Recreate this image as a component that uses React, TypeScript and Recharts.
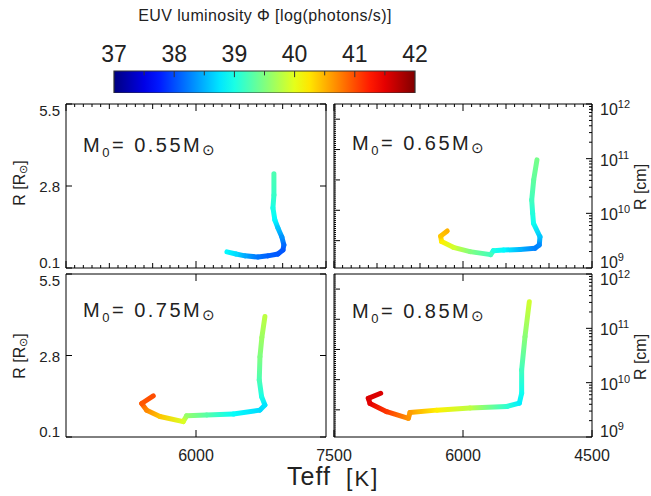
import React from "react";
import { LineChart, Line, XAxis, YAxis, ReferenceArea, ReferenceLine } from "recharts";

const FONT = "'Liberation Sans', Arial, Helvetica, sans-serif";
const INK = "#222";

// colour scale (EUV luminosity, log photons/s)
const phiMin = 37;
const phiMax = 42;
const colorbarTicks = [37, 37.5, 38, 38.5, 39, 39.5, 40, 40.5, 41, 41.5, 42];
const colorbarLabels = [37, 38, 39, 40, 41, 42];

// axis ticks
const teffMinorTicks = Array.from({ length: 31 }, (_, i) => 4500 + i * 100);
const teffMidTick = [6000];
const teffEdgeTicks = [7500, 6000, 4500];
const rSunTicks = [0.1, 2.8, 5.5];
const rDenseTicks = Array.from({ length: 84 }, (_, i) => i / 15).filter((v) => v >= 0.1 && v <= 5.5);
const cmTicks = [9, 10, 11].flatMap((n) => [1, 2, 3, 4, 5, 6, 7, 8, 9].map((k) => k * Math.pow(10, n))).concat([1e12]);

// tracks: Teff [K], R [Rsun], EUV luminosity
const masses = ["0.55", "0.65", "0.75", "0.85"];

const teff055 = [5101, 5101, 5112, 5090, 5055, 5009, 4986, 4997, 5055, 5170, 5285, 5435, 5539, 5643];
const rad055 = [3.2, 2.5, 2.08, 1.68, 1.42, 1.12, 0.86, 0.69, 0.56, 0.5, 0.46, 0.5, 0.56, 0.63];
const phi055 = [39.25, 39.15, 39.0, 38.85, 38.6, 38.35, 38.15, 38.05, 38.05, 38.1, 38.2, 38.45, 38.7, 38.85];

const teff065 = [5140, 5178, 5201, 5190, 5180, 5105, 5113, 5163, 5337, 5531, 5647, 5678, 5919, 6113, 6249, 6260, 6183];
const rad065 = [3.66, 3.0, 2.34, 1.9, 1.57, 1.13, 0.86, 0.75, 0.71, 0.69, 0.67, 0.54, 0.64, 0.78, 0.97, 1.15, 1.32];
const phi065 = [39.45, 39.35, 39.2, 39.05, 38.95, 38.6, 38.3, 38.25, 38.5, 38.85, 39.0, 39.2, 39.5, 39.9, 40.2, 40.4, 40.5];

const teff075 = [5205, 5240, 5262, 5270, 5243, 5205, 5262, 5570, 5877, 6108, 6147, 6416, 6569, 6627, 6493];
const rad075 = [4.09, 3.4, 2.76, 1.99, 1.44, 1.16, 0.99, 0.86, 0.83, 0.8, 0.61, 0.78, 0.99, 1.21, 1.46];
const phi075 = [39.8, 39.65, 39.5, 39.25, 39.0, 38.75, 38.7, 38.9, 39.3, 39.6, 39.95, 40.4, 40.7, 40.95, 41.0];

const teff085 = [5229, 5279, 5318, 5318, 5345, 5492, 5919, 6306, 6616, 6635, 6887, 7081, 7101, 6957];
const rad085 = [4.58, 3.42, 2.32, 1.55, 1.22, 1.11, 1.06, 0.99, 0.91, 0.72, 0.94, 1.21, 1.38, 1.55];
const phi085 = [39.9, 39.55, 39.2, 38.95, 38.8, 39.1, 39.8, 40.2, 40.6, 40.65, 41.1, 41.5, 41.55, 41.55];

const toRows = (t: number[], r: number[], p: number[]) => t.map((v, i) => ({ t: v, r: r[i], phi: p[i] }));
const tracks = [
  toRows(teff055, rad055, phi055),
  toRows(teff065, rad065, phi065),
  toRows(teff075, rad075, phi075),
  toRows(teff085, rad085, phi085),
];

function jet(v: number) {
  const t = Math.min(1, Math.max(0, (v - phiMin) / (phiMax - phiMin)));
  const c = (x: number) => Math.round(255 * Math.min(1, Math.max(0, x)));
  const r = c(Math.min(4 * t - 1.5, -4 * t + 4.5));
  const g = c(Math.min(4 * t - 0.5, -4 * t + 3.5));
  const b = c(Math.min(4 * t + 0.5, -4 * t + 2.5));
  return `rgb(${r},${g},${b})`;
}

const near = (a: number, b: number) => Math.abs(a - b) < 1e-6;

// each dot draws the coloured piece of track up to the next point
function makeSegment(id: string) {
  return (props: any) => {
    const { cx, cy, index, points, payload } = props;
    const next = points && points[index + 1];
    if (!next) return <g key={`s-${id}-${index}`} />;
    const gid = `grad-${id}-${index}`;
    return (
      <g key={`s-${id}-${index}`}>
        <defs>
          <linearGradient id={gid} gradientUnits="userSpaceOnUse" x1={cx} y1={cy} x2={next.x} y2={next.y}>
            <stop offset="0" stopColor={jet(payload.phi)} />
            <stop offset="1" stopColor={jet(next.payload.phi)} />
          </linearGradient>
        </defs>
        <line x1={cx} y1={cy} x2={next.x} y2={next.y} stroke={`url(#${gid})`} strokeWidth={5} strokeLinecap="round" />
      </g>
    );
  };
}

const teffLen = (v: number) => (v % 1500 === 0 ? 7 : v % 500 === 0 ? 5 : 3);

function BottomTick({ x, y, payload, labels }: any) {
  const v = payload.value;
  return (
    <g>
      <line x1={x} y1={y} x2={x} y2={y - teffLen(v)} stroke="#000" />
      {labels.includes(v) && (
        <text x={x} y={y + 24} textAnchor="middle" fontSize={16} fontFamily={FONT} fill={INK}>
          {v}
        </text>
      )}
    </g>
  );
}

function TopTick({ x, y, payload }: any) {
  return <line x1={x} y1={y} x2={x} y2={y + teffLen(payload.value)} stroke="#000" />;
}

function LeftTick({ x, y, payload, labeled }: any) {
  const v = payload.value;
  const major = labeled ? true : near(v, Math.round(v));
  const len = major ? 6 : 2;
  const dy = near(v, 5.5) ? 12 : near(v, 0.1) ? 0 : 6;
  return (
    <g>
      <line x1={x} y1={y} x2={x + len} y2={y} stroke="#000" />
      {labeled && (
        <text x={x - 6} y={y + dy} textAnchor="end" fontSize={15} fontFamily={FONT} fill={INK}>
          {v.toFixed(1)}
        </text>
      )}
    </g>
  );
}

function RightSunTick({ x, y }: any) {
  return <line x1={x} y1={y} x2={x - 6} y2={y} stroke="#000" />;
}

function RightCmTick({ x, y, payload }: any) {
  const v = payload.value;
  const e = Math.round(Math.log10(v));
  const decade = near(v / Math.pow(10, e), 1);
  const dy = e === 12 ? 11 : e === 9 ? 0 : 7;
  return (
    <g>
      <line x1={x} y1={y} x2={x - (decade ? 6 : 3)} y2={y} stroke="#000" />
      {decade && (
        <text x={x + 8} y={y + dy} fontSize={16} fontFamily={FONT} fill={INK}>
          10
          <tspan dy={-7} fontSize={11}>
            {e}
          </tspan>
        </text>
      )}
    </g>
  );
}

function CbTick({ x, y, payload }: any) {
  const v = payload.value;
  if (!colorbarLabels.includes(v)) return <g />;
  return (
    <text x={x} y={y - 9} textAnchor="middle" fontSize={23} fontFamily={FONT} fill={INK}>
      {v}
    </text>
  );
}

const panels = [
  { left: 66, top: 104, w: 260, h: 164, col: 0, row: 0 },
  { left: 334, top: 104, w: 258, h: 164, col: 1, row: 0 },
  { left: 66, top: 274, w: 260, h: 163, col: 0, row: 1 },
  { left: 334, top: 274, w: 258, h: 163, col: 1, row: 1 },
];

function Panel({ idx }: { idx: number }) {
  const p = panels[idx];
  const isLeft = p.col === 0;
  const isTop = p.row === 0;
  const bottomTicks = isTop ? teffMinorTicks : isLeft ? teffMidTick : teffEdgeTicks;
  const bottomLabels = isTop ? [] : isLeft ? [6000] : teffEdgeTicks;
  const common = { type: "number" as const, domain: [4500, 7500], reversed: true, allowDataOverflow: true, interval: 0 as const, tickSize: 0, tickMargin: 0, tickLine: false, axisLine: { stroke: "#000" } };
  return (
    <div style={{ position: "absolute", left: p.left - 60, top: p.top - 20 }}>
      <LineChart width={p.w + 120} height={p.h + 60} data={tracks[idx]} margin={{ top: 0, right: 0, bottom: 0, left: 0 }}>
        <XAxis xAxisId="b" dataKey="t" {...common} height={40} ticks={bottomTicks} tick={(t: any) => <BottomTick {...t} labels={bottomLabels} />} />
        <XAxis xAxisId="t" dataKey="t" orientation="top" {...common} height={20} ticks={isTop ? teffMinorTicks : teffMidTick} tick={(t: any) => <TopTick {...t} />} />
        <YAxis
          yAxisId="r"
          type="number"
          domain={[0.1, 5.5]}
          allowDataOverflow
          width={60}
          interval={0}
          tickSize={0}
          tickMargin={0}
          tickLine={false}
          axisLine={{ stroke: "#000" }}
          ticks={isLeft ? rSunTicks : rDenseTicks}
          tick={(t: any) => <LeftTick {...t} labeled={isLeft} />}
        />
        {isLeft ? (
          <YAxis yAxisId="o" orientation="right" type="number" domain={[0.1, 5.5]} allowDataOverflow width={60} interval={0} tickSize={0} tickMargin={0} tickLine={false} axisLine={{ stroke: "#000" }} ticks={rSunTicks} tick={(t: any) => <RightSunTick {...t} />} />
        ) : (
          <YAxis yAxisId="o" orientation="right" type="number" scale="log" domain={[1e9, 1e12]} allowDataOverflow width={60} interval={0} tickSize={0} tickMargin={0} tickLine={false} axisLine={{ stroke: "#000" }} ticks={cmTicks} tick={(t: any) => <RightCmTick {...t} />} />
        )}
        <Line xAxisId="b" yAxisId="r" dataKey="r" stroke="none" isAnimationActive={false} dot={makeSegment(`p${idx}`)} activeDot={false} />
      </LineChart>
    </div>
  );
}

const cbStops = Array.from({ length: 21 }, (_, i) => i / 20);

function Colorbar() {
  return (
    <div style={{ position: "absolute", left: 84, top: 31 }}>
      <LineChart width={361} height={62} data={colorbarTicks.map((v) => ({ v, y: 0.5 }))} margin={{ top: 0, right: 30, bottom: 0, left: 30 }}>
        <YAxis hide type="number" domain={[0, 1]} />
        <XAxis dataKey="v" type="number" orientation="top" domain={[37, 42]} ticks={colorbarTicks} interval={0} height={40} tickSize={0} tickMargin={0} axisLine={false} tickLine={false} tick={(t: any) => <CbTick {...t} />} />
        <ReferenceArea x1={37} x2={42} y1={0} y2={1} ifOverflow="visible" fill="url(#jetbar)" fillOpacity={1} stroke="#333" strokeWidth={1.2} />
        {colorbarTicks.slice(1, -1).map((v) => (
          <ReferenceLine
            key={v}
            ifOverflow="visible"
            segment={[
              { x: v, y: 1 },
              { x: v, y: Number.isInteger(v) ? 0.72 : 0.8 },
            ]}
            stroke="#333"
            strokeWidth={1}
          />
        ))}
        <Line dataKey="y" stroke="none" dot={false} activeDot={false} isAnimationActive={false} />
      </LineChart>
    </div>
  );
}

function MassLabel({ x, y, m }: { x: number; y: number; m: string }) {
  return (
    <text x={x} y={y} fontSize={20} fontFamily={FONT} fill={INK} letterSpacing={2.5}>
      M
      <tspan fontSize={13} dy={5}>0</tspan>
      <tspan fontSize={20} dy={-5}>{`= ${m}M`}</tspan>
      <tspan fontSize={15} dy={3}>⊙</tspan>
    </text>
  );
}

export default function App() {
  const labelPos = [
    { x: 83, y: 152 },
    { x: 352, y: 150 },
    { x: 83, y: 317 },
    { x: 352, y: 318 },
  ];
  return (
    <div style={{ position: "absolute", left: 0, top: 0, width: 651, height: 496, overflow: "hidden", background: "#fff" }}>
      <svg width={0} height={0} style={{ position: "absolute" }}>
        <defs>
          <linearGradient id="jetbar" x1="0" y1="0" x2="1" y2="0">
            {cbStops.map((s) => (
              <stop key={s} offset={s} stopColor={jet(phiMin + s * (phiMax - phiMin))} />
            ))}
          </linearGradient>
        </defs>
      </svg>
      <Colorbar />
      {panels.map((_, i) => (
        <Panel key={i} idx={i} />
      ))}
      <svg width={651} height={496} style={{ position: "absolute", left: 0, top: 0, pointerEvents: "none" }}>
        <text x={265} y={21} textAnchor="middle" fontSize={16} fontFamily={FONT} fill={INK} letterSpacing={0.4}>
          EUV luminosity Φ [log(photons/s)]
        </text>
        {masses.map((m, i) => (
          <MassLabel key={m} x={labelPos[i].x} y={labelPos[i].y} m={m} />
        ))}
        {[183, 356].map((cy) => (
          <text key={`l${cy}`} transform={`translate(25 ${cy}) rotate(-90)`} textAnchor="middle" fontSize={16} fontFamily={FONT} fill={INK}>
            R [R<tspan fontSize={11} dy={2}>⊙</tspan>
            <tspan dy={-2}>]</tspan>
          </text>
        ))}
        {[187, 357].map((cy) => (
          <text key={`r${cy}`} transform={`translate(646 ${cy}) rotate(-90)`} textAnchor="middle" fontSize={16} fontFamily={FONT} fill={INK}>
            R [cm]
          </text>
        ))}
        <text x={287} y={485} fontSize={25} fontFamily={FONT} fill={INK} letterSpacing={1}>
          Teff
        </text>
        <text x={346} y={486} fontSize={22} fontFamily={FONT} fill={INK}>
          <tspan fontSize={23}>[</tspan>
          <tspan dx={2}>K</tspan>
          <tspan fontSize={23} dx={2}>]</tspan>
        </text>
      </svg>
    </div>
  );
}
